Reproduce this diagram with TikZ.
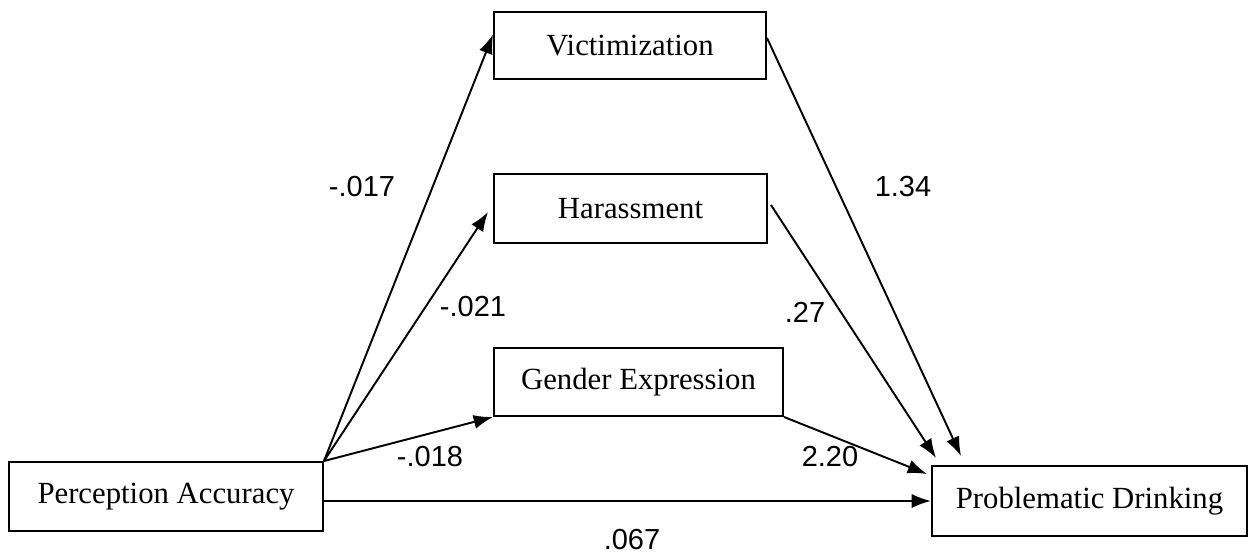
\documentclass[tikz,border=0pt]{standalone}
\usepackage{fontspec}
\setmainfont{Liberation Serif}
\newfontfamily\numfont{Liberation Sans}
\usepackage{tikz}
\usetikzlibrary{arrows.meta, calc}

\begin{document}
\begin{tikzpicture}[
      box/.style={draw, line width=1.1pt, minimum height=1.36cm, font=\fontsize{17.5}{20}\selectfont, align=center, inner sep=0pt},
      coef/.style={font=\numfont\fontsize{16.5}{19}\selectfont, inner sep=0pt},
      arrow/.style={-{Latex[length=11pt,width=8pt]}, line width=1.1pt}
    ]
      \useasboundingbox (0,0) rectangle (25.04,11.12);

      \node[box, minimum width=6.28cm, minimum height=1.38cm] (acc) at (3.32,1.19) {Perception Accuracy};
      \node[box, minimum width=6.30cm, minimum height=1.40cm] (drink) at (21.79,1.10) {Problematic Drinking};
      \node[box, minimum width=5.44cm, minimum height=1.34cm] (vict) at (12.60,10.21) {Victimization};
      \node[box, minimum width=5.46cm, minimum height=1.38cm] (haras) at (12.61,6.95) {Harassment};
      \node[box, minimum width=5.78cm] (gender) at (12.77,3.48) {Gender Expression};

      % end points on the outcome box
      \coordinate (inV) at ($(drink.north west)+(0.60,0.18)$);
      \coordinate (inH) at ($(drink.north west)+(0.10,0.14)$);
      \coordinate (inG) at ($(drink.north west)+(-0.08,-0.18)$);

      \draw[arrow] (acc.north east) -- ($(vict.north west)!0.34!(vict.south west)$);
      \draw[arrow] (acc.north east) -- ($(haras.west)+(-0.1,-0.07)$);
      \draw[arrow] (acc.north east) -- (gender.south west);
      \draw[arrow] (acc.east |- drink.west) -- (drink.west);

      \draw[arrow] ($(vict.north east)!0.39!(vict.south east)$) -- (inV);
      \draw[arrow] ($(haras.east)+(0.06,0.07)$) -- (inH);
      \draw[arrow] (gender.south east) -- (inG);

      \node[coef] (c1) at (7.24,7.38) {-.017};
      \node[coef] (c2) at (9.46,4.98) {-.021};
      \node[coef] (c3) at (8.60,1.98) {-.018};
      \node[coef] (c4) at (18.06,7.38) {1.34};
      \node[coef] (c5) at (16.10,4.88) {.27};
      \node[coef] (c6) at (16.60,1.98) {2.20};
      \node[coef] (c7) at (12.64,0.32) {.067};
    \end{tikzpicture}
\end{document}
